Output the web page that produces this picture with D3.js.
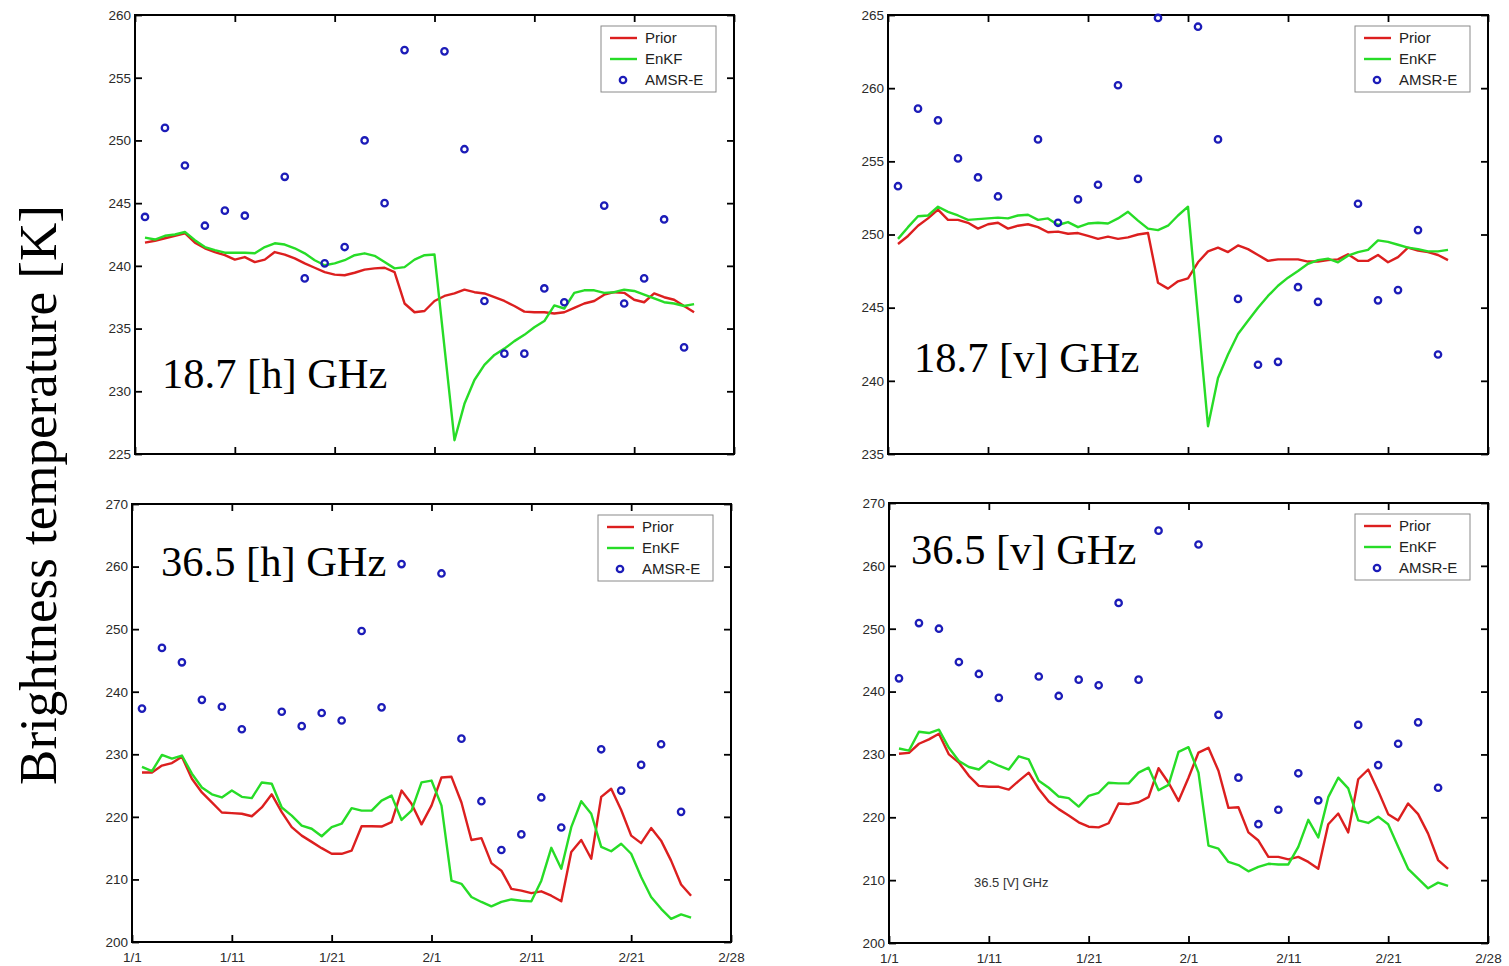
<!DOCTYPE html>
<html>
<head>
<meta charset="utf-8">
<script src="https://cdn.jsdelivr.net/npm/d3@7"></script>
<style>
  body { margin: 0; background: #fff; }
  svg { display: block; }
</style>
</head>
<body>
<svg id="chart" width="1509" height="966"></svg>
<script>
// ---- data ---------------------------------------------------------------
// model days since 1 January (simulated every day)
const days = [1,2,3,4,5,6,7,8,9,10,11,12,13,14,15,16,17,18,19,20,21,22,23,24,25,26,27,28,
              29,30,31,32,33,34,35,36,37,38,39,40,41,42,43,44,45,46,47,48,49,50,51,52,53,54,55,56];
// days with an AMSR-E overpass
const obsDays = [1,3,5,7,9,11,15,17,19,21,23,25,27,31,33,35,37,39,41,43,47,49,51,53,55];

const xTickValues = [0,10,20,30,40,50,60];
const xTickLabels = ["1/1","1/11","1/21","2/1","2/11","2/21","2/28"];
const seriesNames = ["Prior","EnKF","AMSR-E"];

// 18.7 GHz, horizontal polarisation
const prior18h = [241.85,242.0,242.2,242.4,242.6,241.85,241.4,241.1,240.85,240.5,240.7,240.3,240.5,241.1,
                  240.9,240.6,240.2,239.85,239.5,239.3,239.25,239.45,239.7,239.8,239.85,239.5,237.0,236.3,
                  236.4,237.2,237.6,237.8,238.1,237.9,237.8,237.5,237.2,236.8,236.35,236.3,236.3,236.2,
                  236.3,236.65,237.0,237.2,237.7,237.9,237.85,237.3,237.1,237.8,237.5,237.3,236.8,236.3];
const enkf18h  = [242.25,242.1,242.4,242.5,242.7,242.05,241.5,241.25,241.05,241.05,241.05,241.0,241.5,241.8,
                  241.7,241.4,241.0,240.45,240.05,240.2,240.45,240.85,241.0,240.8,240.3,239.8,239.9,240.5,
                  240.85,240.9,233.5,226.1,229.0,230.9,232.1,232.9,233.4,234.0,234.5,235.1,235.6,236.85,
                  236.6,237.85,238.05,238.05,237.85,237.9,238.1,238.0,237.7,237.4,237.1,237.0,236.8,236.95];
const amsr18h  = [243.9,251.0,248.0,243.2,244.4,244.0,247.1,239.0,240.2,241.5,250.0,245.0,257.2,
                  257.1,249.3,237.2,233.0,233.0,238.2,237.1,244.8,237.0,239.0,243.7,233.5];

// 18.7 GHz, vertical polarisation
const prior18v = [249.35,249.9,250.6,251.1,251.7,251.0,251.0,250.8,250.4,250.7,250.8,250.4,250.6,250.7,
                  250.5,250.15,250.2,250.05,250.1,249.9,249.7,249.85,249.7,249.8,250.0,250.1,246.7,246.3,
                  246.8,247.0,248.1,248.85,249.1,248.8,249.25,249.0,248.6,248.2,248.3,248.3,248.3,248.15,
                  248.15,248.25,248.3,248.65,248.2,248.2,248.6,248.1,248.45,249.1,248.9,248.8,248.6,248.25];
const enkf18v  = [249.7,250.5,251.25,251.3,251.9,251.55,251.3,251.0,251.05,251.1,251.15,251.1,251.3,251.35,
                  251.0,251.1,250.65,250.85,250.5,250.75,250.8,250.75,251.1,251.55,250.95,250.4,250.3,250.6,
                  251.3,251.9,244.4,236.9,240.2,241.8,243.2,244.1,245.0,245.8,246.5,247.05,247.5,248.0,
                  248.25,248.35,248.1,248.55,248.8,248.95,249.6,249.5,249.3,249.1,249.0,248.85,248.85,248.95];
const amsr18v  = [253.3,258.6,257.8,255.2,253.9,252.6,256.5,250.8,252.4,253.4,260.2,253.8,264.8,
                  264.2,256.5,245.6,241.1,241.3,246.4,245.4,252.1,245.5,246.2,250.3,241.8];

// 36.5 GHz, horizontal polarisation
const prior36h = [227.1,227.1,228.2,228.6,229.6,226.1,223.9,222.3,220.7,220.6,220.5,220.1,221.5,223.6,
                  220.75,218.35,217.0,216.0,215.0,214.1,214.1,214.6,218.5,218.5,218.45,219.15,224.2,222.1,
                  218.8,221.8,226.3,226.4,222.3,216.3,216.6,212.6,211.4,208.5,208.2,207.8,208.1,207.4,
                  206.5,214.4,216.3,213.3,223.2,224.5,221.1,217.0,215.8,218.2,216.2,213.0,209.2,207.4];
const enkf36h  = [228.0,227.3,229.9,229.3,229.8,226.9,224.7,223.6,223.1,224.2,223.2,223.0,225.5,225.3,
                  221.5,220.2,218.6,218.1,216.9,218.35,218.9,221.4,221.0,221.0,222.6,223.4,219.5,221.0,
                  225.5,225.8,221.8,209.8,209.3,207.2,206.4,205.7,206.4,206.8,206.6,206.5,209.8,215.05,
                  211.7,218.35,222.5,220.5,215.2,214.5,215.7,214.1,210.4,207.2,205.3,203.7,204.4,203.9];
const amsr36h  = [237.3,247.0,244.7,238.7,237.6,234.0,236.8,234.5,236.6,235.4,249.7,237.5,260.4,
                  258.9,232.5,222.5,214.7,217.2,223.1,218.3,230.8,224.2,228.3,231.6,220.8];

// 36.5 GHz, vertical polarisation
const prior36v = [230.1,230.25,231.7,232.4,233.3,230.0,228.7,226.6,225.0,224.85,224.85,224.4,225.8,227.1,
                  224.5,222.5,221.3,220.3,219.2,218.5,218.4,219.05,222.2,222.1,222.4,223.2,227.8,225.5,
                  222.6,226.3,230.3,231.05,227.4,221.5,221.6,217.6,216.3,213.7,213.7,213.3,213.7,212.9,
                  211.8,218.9,220.6,217.6,226.05,227.6,224.2,220.5,219.5,222.2,220.5,217.4,213.2,211.8];
const enkf36v  = [230.95,230.6,233.6,233.4,233.95,231.05,228.95,228.0,227.6,228.95,228.2,227.6,229.7,229.2,
                  225.8,224.7,223.3,223.05,221.7,223.4,223.9,225.5,225.4,225.4,227.1,227.9,224.3,225.15,
                  230.4,231.15,227.1,215.5,215.0,212.9,212.4,211.4,212.1,212.6,212.5,212.5,215.3,219.6,
                  216.8,223.2,226.3,224.6,219.5,219.1,220.1,218.9,215.3,211.8,210.25,208.7,209.6,209.1];
const amsr36v  = [242.1,250.9,250.0,244.7,242.8,239.0,242.4,239.3,241.9,241.0,254.1,241.9,265.6,
                  263.4,236.3,226.3,218.9,221.2,227.0,222.7,234.7,228.3,231.7,235.1,224.7];

const yTicks18h = [225,230,235,240,245,250,255,260];
const yTicks18v = [235,240,245,250,255,260,265];
const yTicks36h = [200,210,220,230,240,250,260,270];
const yTicks36v = [200,210,220,230,240,250,260,270];

const panelTitles = ["18.7 [h] GHz","18.7 [v] GHz","36.5 [h] GHz","36.5 [v] GHz"];
const yAxisTitle = "Brightness temperature [K]";
const panelNote = "36.5 [V] GHz";

// ---- drawing ------------------------------------------------------------
const svg = d3.select("#chart");
const colors = { prior: "#dc1f1f", enkf: "#27dc27", obs: "#1c1cb8" };
const sansFont = "'Liberation Sans', Arial, Helvetica, sans-serif";
const serifFont = "'Liberation Serif', 'Times New Roman', serif";

const panels = [
  { prior: prior18h, enkf: enkf18h, obs: amsr18h, yTicks: yTicks18h, title: panelTitles[0],
    box: [135, 15, 734, 454], titleAt: [162, 388], xLabels: false },
  { prior: prior18v, enkf: enkf18v, obs: amsr18v, yTicks: yTicks18v, title: panelTitles[1],
    box: [888, 15, 1488, 454], titleAt: [914, 372], xLabels: false },
  { prior: prior36h, enkf: enkf36h, obs: amsr36h, yTicks: yTicks36h, title: panelTitles[2],
    box: [132, 504, 731, 942], titleAt: [161, 576], xLabels: true },
  { prior: prior36v, enkf: enkf36v, obs: amsr36v, yTicks: yTicks36v, title: panelTitles[3],
    box: [889, 503, 1488, 943], titleAt: [911, 564], xLabels: true, note: [974, 887] }
];

panels.forEach(p => {
  const [x0, y0, x1, y1] = p.box;
  const x = d3.scaleLinear().domain([0, 60]).range([x0, x1]);
  const y = d3.scaleLinear().domain(d3.extent(p.yTicks)).range([y1, y0]);
  const g = svg.append("g");

  const styleAxis = sel => {
    sel.select(".domain").remove();
    sel.selectAll(".tick line").attr("stroke", "#000").attr("stroke-width", 1.8);
    sel.selectAll(".tick text").attr("fill", "#2a2a2a").style("font-family", sansFont).style("font-size", "13.5px");
  };

  g.append("g").attr("transform", `translate(${x0},0)`)
    .call(d3.axisLeft(y).tickValues(p.yTicks).tickSize(-7).tickPadding(4).tickFormat(d3.format("d")))
    .call(styleAxis);
  g.append("g").attr("transform", `translate(${x1},0)`)
    .call(d3.axisRight(y).tickValues(p.yTicks).tickSize(-7).tickFormat(""))
    .call(styleAxis);
  g.append("g").attr("transform", `translate(0,${y0})`)
    .call(d3.axisTop(x).tickValues(xTickValues).tickSize(-7).tickFormat(""))
    .call(styleAxis);
  g.append("g").attr("transform", `translate(0,${y1})`)
    .call(d3.axisBottom(x).tickValues(xTickValues).tickSize(-7).tickPadding(10)
      .tickFormat((d, i) => p.xLabels ? xTickLabels[i] : ""))
    .call(styleAxis);

  // plot frame
  g.append("rect").attr("x", x0).attr("y", y0).attr("width", x1 - x0).attr("height", y1 - y0)
    .attr("fill", "none").attr("stroke", "#000").attr("stroke-width", 2);

  const line = d3.line().x((d, i) => x(days[i])).y(d => y(d));
  g.append("path").datum(p.prior).attr("d", line)
    .attr("fill", "none").attr("stroke", colors.prior).attr("stroke-width", 2.4).attr("stroke-linejoin", "round");
  g.append("path").datum(p.enkf).attr("d", line)
    .attr("fill", "none").attr("stroke", colors.enkf).attr("stroke-width", 2.4).attr("stroke-linejoin", "round");

  g.selectAll("circle.obs").data(p.obs).enter().append("circle").attr("class", "obs")
    .attr("cx", (d, i) => x(obsDays[i])).attr("cy", d => y(d)).attr("r", 3.2)
    .attr("fill", "none").attr("stroke", colors.obs).attr("stroke-width", 2.3);

  // panel title
  g.append("text").attr("x", p.titleAt[0]).attr("y", p.titleAt[1])
    .style("font-family", serifFont).style("font-size", "42.5px").attr("fill", "#000").text(p.title);

  if (p.note) {
    g.append("text").attr("x", p.note[0]).attr("y", p.note[1])
      .style("font-family", sansFont).style("font-size", "13px").attr("fill", "#333").text(panelNote);
  }

  // legend
  const lw = 115, lh = 66;
  const lx = x1 - 18 - lw, ly = y0 + 11;
  const lg = g.append("g").attr("transform", `translate(${lx},${ly})`);
  lg.append("rect").attr("width", lw).attr("height", lh).attr("fill", "#fff")
    .attr("stroke", "#8a8a8a").attr("stroke-width", 1);
  seriesNames.forEach((name, i) => {
    const cy = 12 + i * 21;
    if (i < 2) {
      lg.append("line").attr("x1", 9).attr("x2", 36).attr("y1", cy).attr("y2", cy)
        .attr("stroke", i === 0 ? colors.prior : colors.enkf).attr("stroke-width", 2.4);
    } else {
      lg.append("circle").attr("cx", 22).attr("cy", cy).attr("r", 3.2)
        .attr("fill", "none").attr("stroke", colors.obs).attr("stroke-width", 2.3);
    }
    lg.append("text").attr("x", 44).attr("y", cy + 5)
      .style("font-family", sansFont).style("font-size", "15px").attr("fill", "#222").text(name);
  });
});

// shared y-axis title
svg.append("text")
  .attr("transform", "translate(56,495) rotate(-90)")
  .attr("text-anchor", "middle")
  .style("font-family", serifFont).style("font-size", "53px").attr("fill", "#000")
  .text(yAxisTitle);
</script>
</body>
</html>
